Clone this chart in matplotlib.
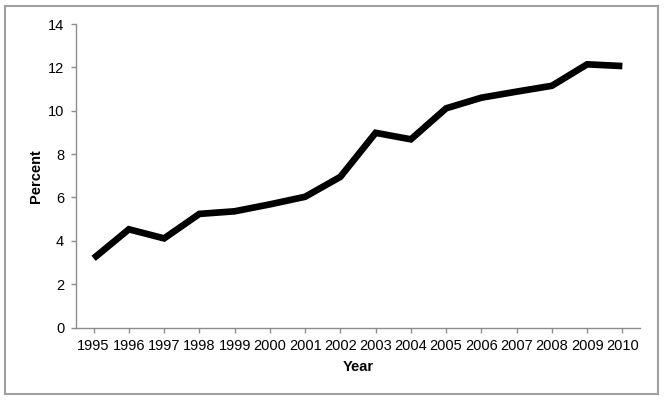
import matplotlib
matplotlib.use("Agg")
import matplotlib.pyplot as plt
from matplotlib.patches import Rectangle

years = ["1995", "1996", "1997", "1998", "1999", "2000", "2001", "2002",
         "2003", "2004", "2005", "2006", "2007", "2008", "2009", "2010"]
percent = [3.19, 4.53, 4.11, 5.24, 5.36, 5.68, 6.03, 6.95,
           8.98, 8.68, 10.11, 10.6, 10.88, 11.15, 12.14, 12.06]
yticks = [0, 2, 4, 6, 8, 10, 12, 14]

plt.rcParams['font.family'] = ['Liberation Sans', 'DejaVu Sans']

fig = plt.figure(figsize=(6.64, 4.0), dpi=100)
ax = fig.add_axes([76/664, 1-327.5/400, (640-76)/664, (327.5-24)/400])

x = list(range(len(years)))
ax.plot(x, percent, color='black', linewidth=4.8, solid_joinstyle='miter', solid_capstyle='butt')

ax.set_xlim(-0.5, len(years) - 0.5)
ax.set_ylim(0, 14)
ax.set_yticks(yticks)
ax.set_yticklabels([str(v) for v in yticks], fontsize=10.5)
ax.set_xticks(x)
ax.set_xticklabels(years, fontsize=10.5)

for s in ['top', 'right']:
    ax.spines[s].set_visible(False)
for s in ['left', 'bottom']:
    ax.spines[s].set_color('#8c8c8c')
    ax.spines[s].set_linewidth(1.0)
ax.tick_params(axis='both', colors='#8c8c8c', labelcolor='black', length=3.5, width=1.0, pad=5)

ax.set_xlabel('Year', fontsize=10.5, fontweight='bold', labelpad=5)
ax.set_ylabel('Percent', fontsize=10.5, fontweight='bold', labelpad=3.5)

border = Rectangle((5/664, 6/400), (658-5)/664, (394-6)/400, transform=fig.transFigure,
                   fill=False, edgecolor='#a0a0a0', linewidth=1.5)
fig.patches.append(border)

fig.savefig('out.png', dpi=100)
